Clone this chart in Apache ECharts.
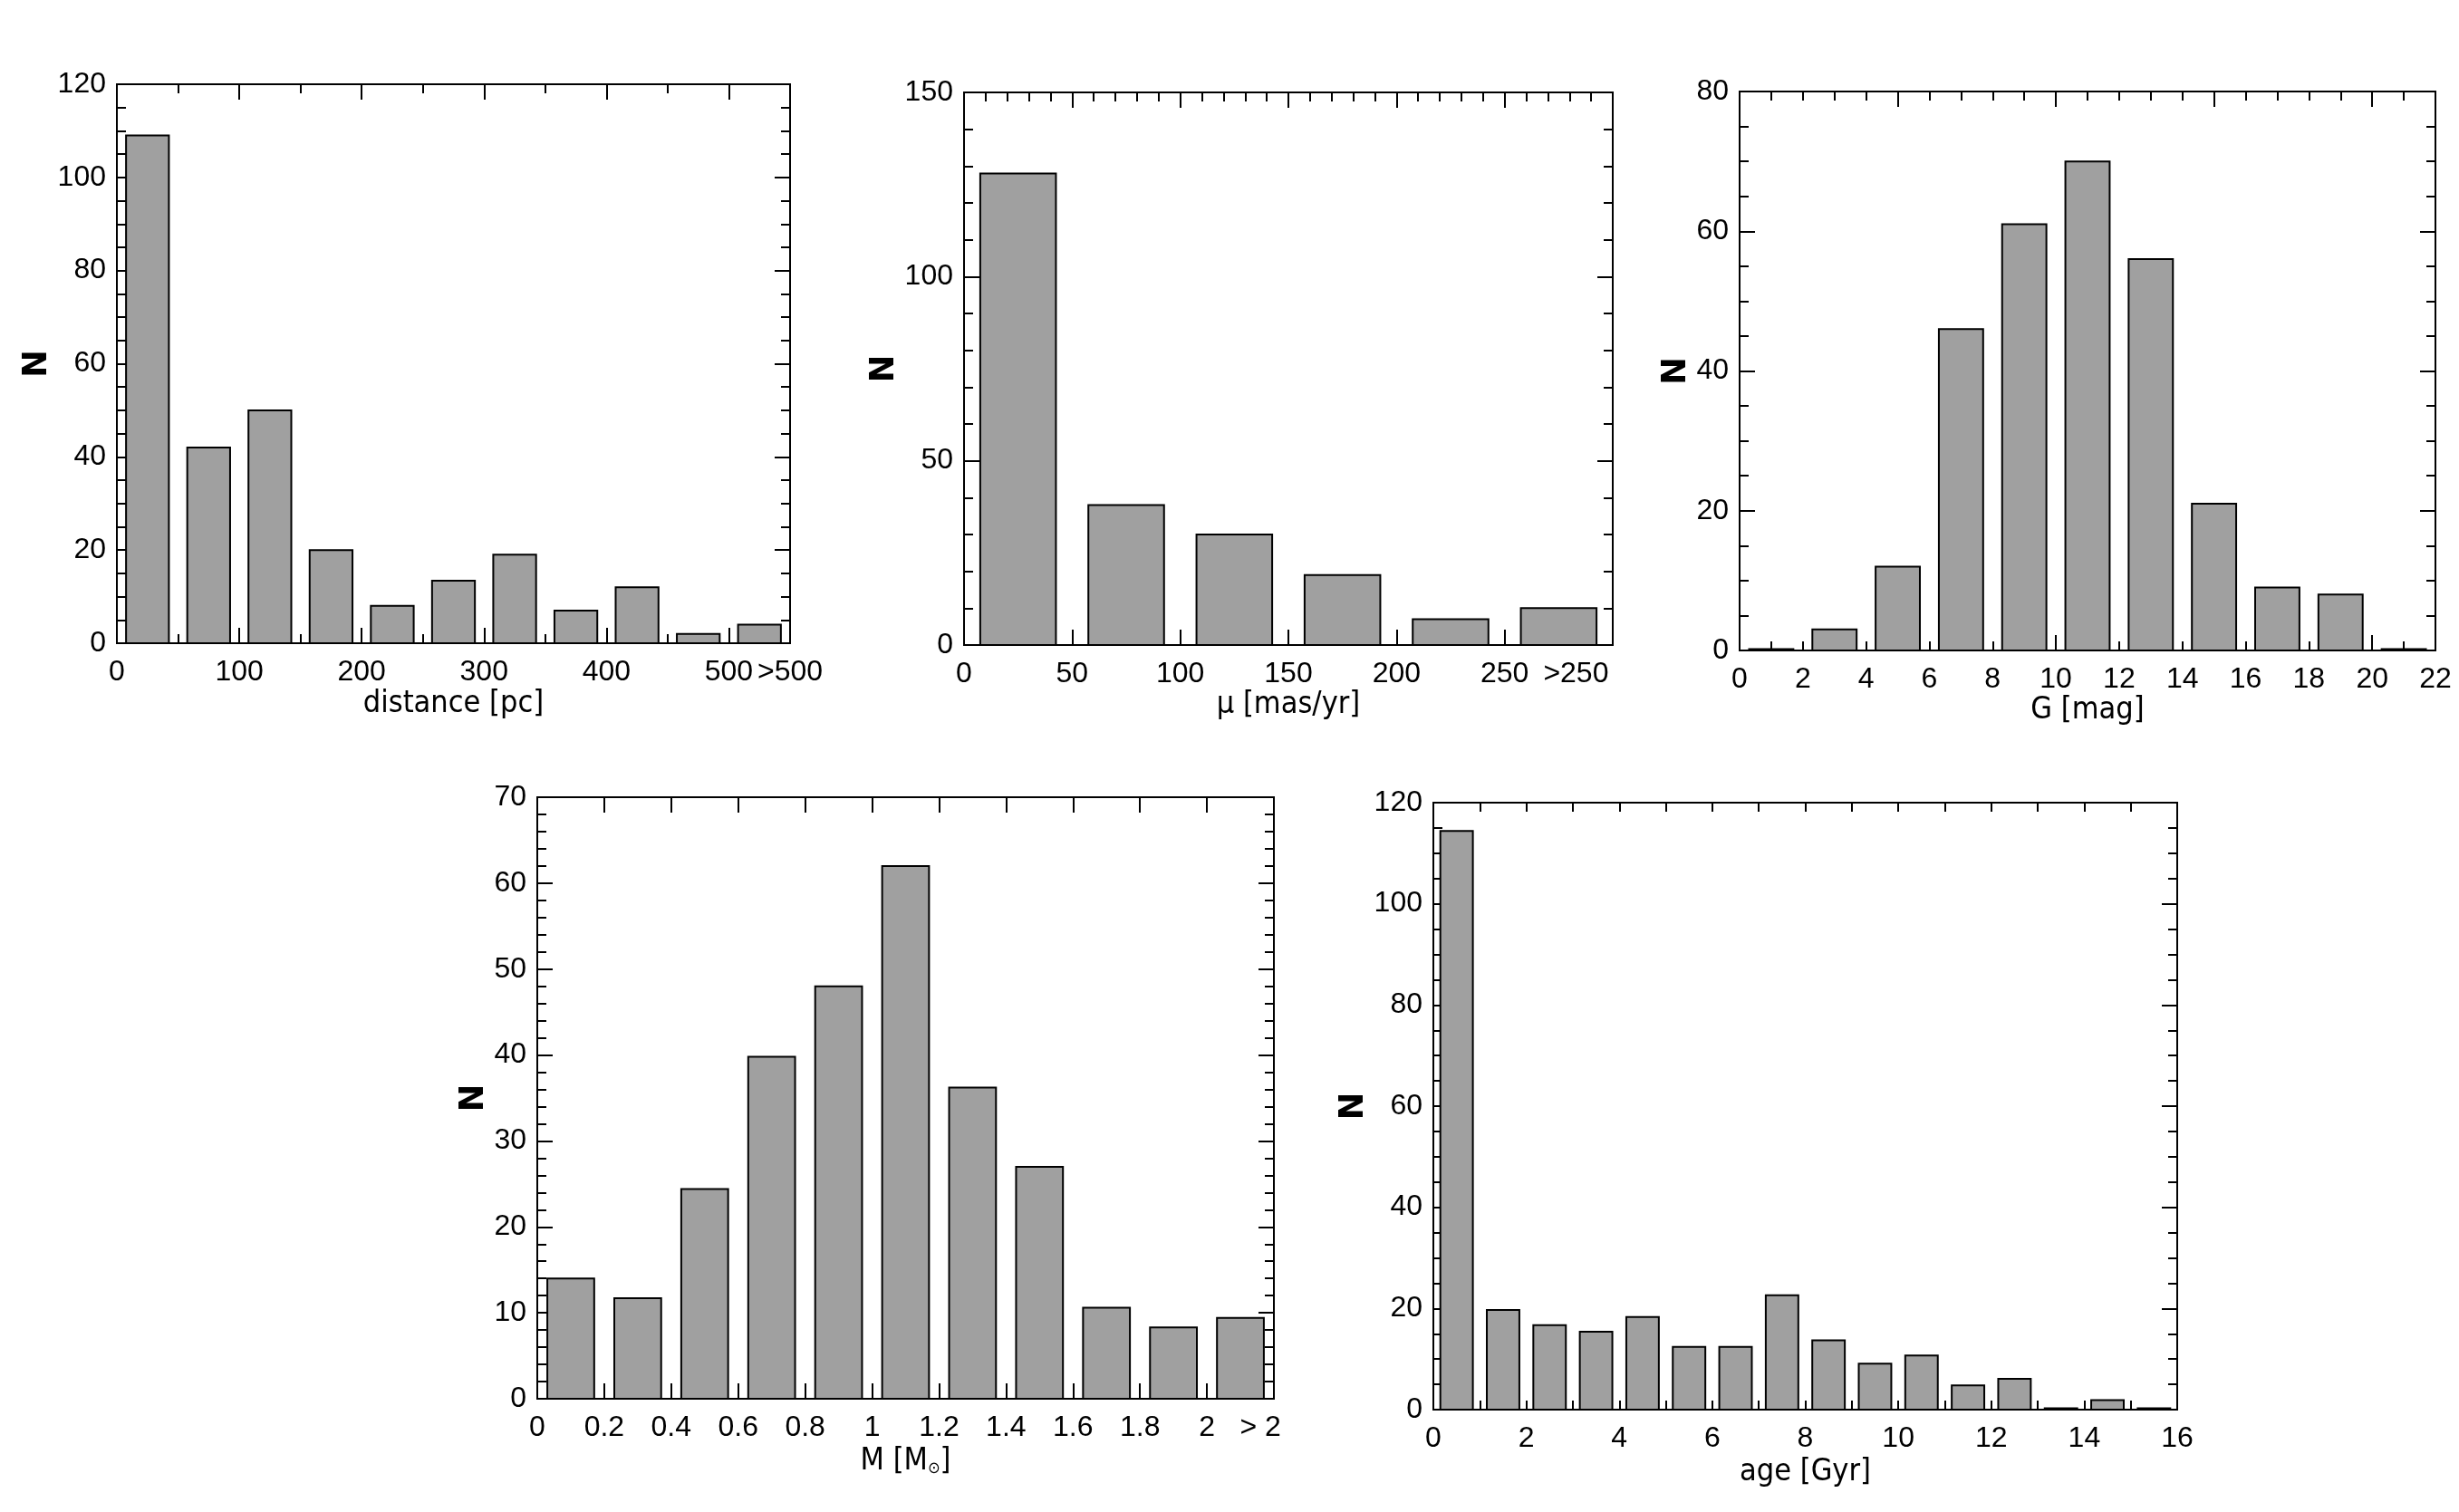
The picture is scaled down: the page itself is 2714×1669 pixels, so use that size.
<!DOCTYPE html>
<html>
<head>
<meta charset="utf-8">
<script src="https://cdn.jsdelivr.net/npm/echarts@6/dist/echarts.min.js"></script>
<style>html,body{margin:0;padding:0;background:#fff}#c{width:2714px;height:1669px}</style>
</head>
<body>
<div id="c"></div>
<script>
// ---- data ----
const distCenters = [25, 75, 125, 175, 225, 275, 325, 375, 425, 475, 525];
const distCounts  = [109, 42, 50, 20, 8, 13.4, 19, 7, 12, 2, 4];
const distLabelVals  = [0, 100, 200, 300, 400, 500, 550];
const distLabelTexts = ['0', '100', '200', '300', '400', '500', '>500'];

const pmCenters = [25, 75, 125, 175, 225, 275];
const pmCounts  = [128, 38, 30, 19, 7, 10];
const pmLabelVals  = [0, 50, 100, 150, 200, 250, 283];
const pmLabelTexts = ['0', '50', '100', '150', '200', '250', '>250'];

const gCenters = [1, 3, 5, 7, 9, 11, 13, 15, 17, 19, 21];
const gCounts  = [0, 3, 12, 46, 61, 70, 56, 21, 9, 8, 0];
const gLabelVals  = [0, 2, 4, 6, 8, 10, 12, 14, 16, 18, 20, 22];
const gLabelTexts = ['0', '2', '4', '6', '8', '10', '12', '14', '16', '18', '20', '22'];

const massCenters = [0.1, 0.3, 0.5, 0.7, 0.9, 1.1, 1.3, 1.5, 1.7, 1.9, 2.1];
const massCounts  = [14, 11.7, 24.4, 39.8, 48, 62, 36.2, 27, 10.6, 8.3, 9.4];
const massLabelVals  = [0, 0.2, 0.4, 0.6, 0.8, 1, 1.2, 1.4, 1.6, 1.8, 2, 2.16];
const massLabelTexts = ['0', '0.2', '0.4', '0.6', '0.8', '1', '1.2', '1.4', '1.6', '1.8', '2', '> 2'];

const ageCenters = [0.5, 1.5, 2.5, 3.5, 4.5, 5.5, 6.5, 7.5, 8.5, 9.5, 10.5, 11.5, 12.5, 13.5, 14.5, 15.5];
const ageCounts  = [114.4, 19.7, 16.7, 15.4, 18.3, 12.4, 12.4, 22.6, 13.7, 9.1, 10.7, 4.8, 6.1, 0, 1.9, 0];
const ageLabelVals  = [0, 2, 4, 6, 8, 10, 12, 14, 16];
const ageLabelTexts = ['0', '2', '4', '6', '8', '10', '12', '14', '16'];

// ---- helpers ----
function steps(a, b, s) { const r = []; const n = Math.round((b - a) / s); for (let i = 0; i <= n; i++) r.push(+(a + i * s).toFixed(6)); return r; }
function except(arr, ex) { return arr.filter(v => !ex.some(e => Math.abs(e - v) < 1e-6)); }

const LABEL_FONT = '"Liberation Sans Narrow", "Liberation Sans", sans-serif';
const TITLE_FONT = '"DejaVu Sans Condensed", "DejaVu Sans", sans-serif';

const panels = [
  { grid: {left: 129, top: 93, width: 743, height: 617}, xMin: 0, xMax: 550,
    labVals: distLabelVals, labTexts: distLabelTexts,
    major: steps(0, 500, 100), minor: steps(50, 450, 100), majorLen: 17, minorLen: 10,
    yMax: 120, yInt: 20, ySplit: 4, yNameGap: 60, xName: 'distance [pc]', xNameGap: 50,
    centers: distCenters, counts: distCounts, binW: 50 },
  { grid: {left: 1064, top: 102, width: 716, height: 610}, xMin: 0, xMax: 300,
    labVals: pmLabelVals, labTexts: pmLabelTexts,
    major: steps(0, 300, 50), minor: except(steps(0, 300, 10), steps(0, 300, 50)), majorLen: 17, minorLen: 10,
    yMax: 150, yInt: 50, ySplit: 5, yNameGap: 63, xName: 'μ [mas/yr]', xNameGap: 48,
    centers: pmCenters, counts: pmCounts, binW: 50 },
  { grid: {left: 1920, top: 101, width: 768, height: 617}, xMin: 0, xMax: 22,
    labVals: gLabelVals, labTexts: gLabelTexts,
    major: steps(0, 20, 5), minor: except(steps(0, 22, 1), steps(0, 20, 5)), majorLen: 17, minorLen: 10,
    yMax: 80, yInt: 20, ySplit: 4, yNameGap: 45, xName: 'G [mag]', xNameGap: 48,
    centers: gCenters, counts: gCounts, binW: 2 },
  { grid: {left: 593, top: 880, width: 813, height: 664}, xMin: 0, xMax: 2.2,
    labVals: massLabelVals, labTexts: massLabelTexts,
    major: steps(0, 2.2, 0.2), minor: [], majorLen: 17, minorLen: 10,
    yMax: 70, yInt: 10, ySplit: 5, yNameGap: 49, xName: 'M [M{s|⊙}]', xNameGap: 52,
    centers: massCenters, counts: massCounts, binW: 0.2 },
  { grid: {left: 1582, top: 886, width: 821, height: 670}, xMin: 0, xMax: 16,
    labVals: ageLabelVals, labTexts: ageLabelTexts,
    major: steps(0, 16, 1), minor: [], majorLen: 10, minorLen: 10,
    yMax: 120, yInt: 20, ySplit: 4, yNameGap: 68, xName: 'age [Gyr]', xNameGap: 52,
    centers: ageCenters, counts: ageCounts, binW: 1 }
];

const grids = [], xAxes = [], yAxes = [], series = [];
const tickLine = {color: '#000', width: 2};

panels.forEach((p, gi) => {
  grids.push(Object.assign({show: true, borderColor: '#000', borderWidth: 2, backgroundColor: 'transparent'}, p.grid));
  const fmt = (v) => { const k = p.labVals.findIndex(x => Math.abs(x - v) < 1e-6); return k >= 0 ? p.labTexts[k] : ''; };
  const xBase = {gridIndex: gi, type: 'value', min: p.xMin, max: p.xMax, axisLine: {show: false, onZero: false}, splitLine: {show: false}};
  const xMainIdx = xAxes.length;
  ['bottom', 'top'].forEach(pos => {
    const isMain = pos === 'bottom';
    xAxes.push(Object.assign({}, xBase, {
      position: pos,
      axisLabel: isMain ? {customValues: p.labVals, formatter: fmt, fontFamily: LABEL_FONT, fontSize: 32, color: '#000', margin: 16} : {show: false},
      axisTick: {show: true, customValues: p.major, inside: true, length: p.majorLen, lineStyle: tickLine},
      name: isMain ? p.xName : '', nameLocation: 'middle', nameGap: p.xNameGap,
      nameTextStyle: {fontFamily: TITLE_FONT, fontSize: 34, color: '#000',
        rich: {s: {fontFamily: TITLE_FONT, fontSize: 18, color: '#000', verticalAlign: 'bottom', padding: [14, 0, 0, 0]}}}
    }));
    if (p.minor.length) {
      xAxes.push(Object.assign({}, xBase, {
        position: pos, axisLabel: {show: false},
        axisTick: {show: true, customValues: p.minor, inside: true, length: p.minorLen, lineStyle: tickLine}
      }));
    }
  });
  const yMainIdx = yAxes.length;
  ['left', 'right'].forEach(pos => {
    const isMain = pos === 'left';
    yAxes.push({
      gridIndex: gi, type: 'value', min: 0, max: p.yMax, interval: p.yInt, position: pos,
      axisLine: {show: false, onZero: false}, splitLine: {show: false},
      axisLabel: isMain ? {fontFamily: LABEL_FONT, fontSize: 32, color: '#000', margin: 12} : {show: false},
      axisTick: {show: true, inside: true, length: 17, lineStyle: tickLine},
      minorTick: {show: true, splitNumber: p.ySplit, length: 10, lineStyle: tickLine},
      name: isMain ? 'N' : '', nameLocation: 'middle', nameGap: p.yNameGap,
      nameTextStyle: {fontFamily: '"DejaVu Sans", sans-serif', fontWeight: 'bold', fontSize: 37, color: '#000'}
    });
  });
  const half = p.binW * 0.35;
  series.push({
    type: 'custom', xAxisIndex: xMainIdx, yAxisIndex: yMainIdx, z: 5,
    data: p.centers.map((c, i) => [c, p.counts[i]]),
    renderItem: function (params, api) {
      const c = api.value(0), v = api.value(1);
      const a = api.coord([c - half, v]);
      const b = api.coord([c + half, 0]);
      let h = b[1] - a[1];
      let y = a[1];
      if (h < 1.5) { h = 1.5; y = b[1] - 1.5; }
      return {type: 'rect', shape: {x: a[0], y: y, width: b[0] - a[0], height: h},
        style: {fill: '#a0a0a0', stroke: '#000', lineWidth: 2}};
    }
  });
});

const chart = echarts.init(document.getElementById('c'), null, {renderer: 'canvas'});
chart.setOption({
  animation: false,
  backgroundColor: '#fff',
  grid: grids, xAxis: xAxes, yAxis: yAxes, series: series
});
</script>
</body>
</html>
